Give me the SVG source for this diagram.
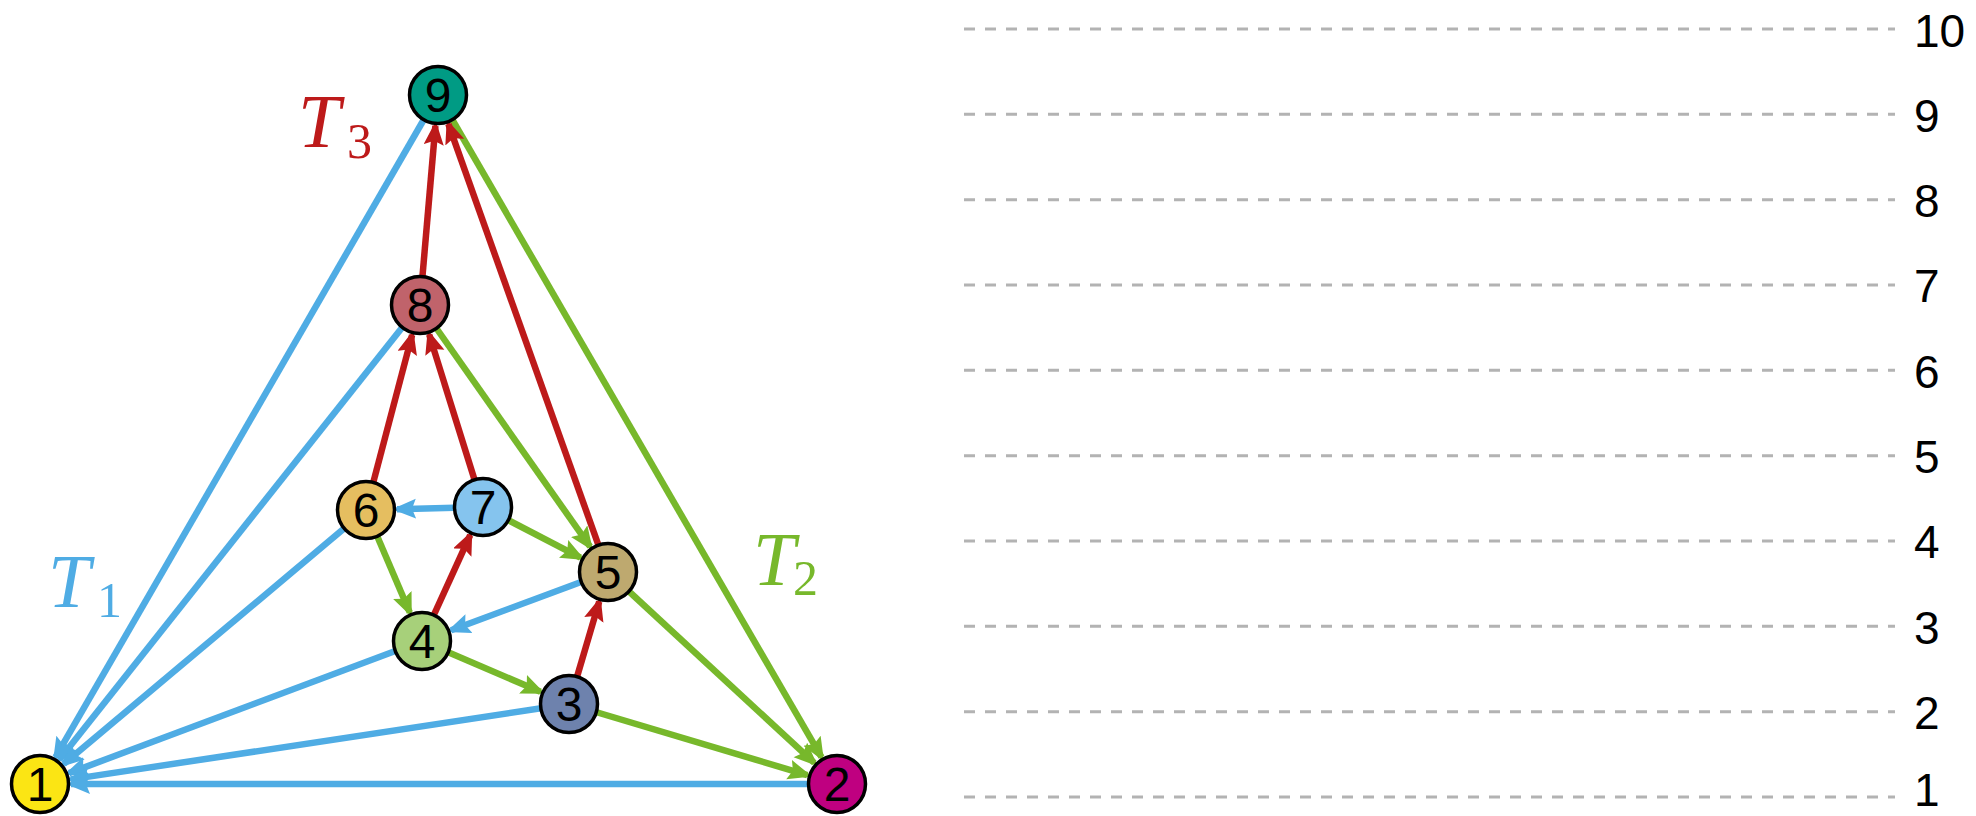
<svg xmlns="http://www.w3.org/2000/svg" width="1976" height="816" viewBox="0 0 1976 816">
<style>
.e{fill:none;stroke-width:6.5}
.b{stroke:#4FACE4}
.g{stroke:#77B82B}
.r{stroke:#BD1A1A}
.n{stroke:#000;stroke-width:3.5}
.nl{font-family:"Liberation Sans",Arial,sans-serif;font-size:48px;text-anchor:middle;fill:#000}
.lv{stroke:#B3B3B3;stroke-width:3;stroke-dasharray:11 10}
.ll{font-family:"Liberation Sans",Arial,sans-serif;font-size:46px;fill:#000}
.tT{font-family:"Liberation Serif","Times New Roman",serif;font-style:italic;font-size:76px}
.ts{font-family:"Liberation Serif","Times New Roman",serif;font-size:50px}
</style>
<defs>
<marker id="ab" markerUnits="userSpaceOnUse" markerWidth="26" markerHeight="22" refX="19" refY="10" orient="auto"><path d="M0,0 L24,10 L0,20 L4,10 z" fill="#4FACE4"/></marker>
<marker id="ag" markerUnits="userSpaceOnUse" markerWidth="26" markerHeight="22" refX="19" refY="10" orient="auto"><path d="M0,0 L24,10 L0,20 L4,10 z" fill="#77B82B"/></marker>
<marker id="ar" markerUnits="userSpaceOnUse" markerWidth="26" markerHeight="22" refX="19" refY="10" orient="auto"><path d="M0,0 L24,10 L0,20 L4,10 z" fill="#BD1A1A"/></marker>
</defs>
<g id="levels">
<line class="lv" x1="964" y1="797" x2="1895" y2="797"/>
<line class="lv" x1="964" y1="711.7" x2="1895" y2="711.7"/>
<line class="lv" x1="964" y1="626.3" x2="1895" y2="626.3"/>
<line class="lv" x1="964" y1="541" x2="1895" y2="541"/>
<line class="lv" x1="964" y1="455.7" x2="1895" y2="455.7"/>
<line class="lv" x1="964" y1="370.3" x2="1895" y2="370.3"/>
<line class="lv" x1="964" y1="285" x2="1895" y2="285"/>
<line class="lv" x1="964" y1="199.7" x2="1895" y2="199.7"/>
<line class="lv" x1="964" y1="114.3" x2="1895" y2="114.3"/>
<line class="lv" x1="964" y1="29" x2="1895" y2="29"/>
<text class="ll" x="1914" y="806">1</text>
<text class="ll" x="1914" y="729">2</text>
<text class="ll" x="1914" y="643.5">3</text>
<text class="ll" x="1914" y="558">4</text>
<text class="ll" x="1914" y="473">5</text>
<text class="ll" x="1914" y="387.5">6</text>
<text class="ll" x="1914" y="302">7</text>
<text class="ll" x="1914" y="217">8</text>
<text class="ll" x="1914" y="131.5">9</text>
<text class="ll" x="1914" y="47">10</text>
</g>
<g id="connectors">
<line class="e b" x1="438" y1="95" x2="55.5" y2="757.2" marker-end="url(#ab)"/>
<line class="e b" x1="420" y1="305" x2="59.3" y2="759.7" marker-end="url(#ab)"/>
<line class="e b" x1="366" y1="510" x2="63.7" y2="764.1" marker-end="url(#ab)"/>
<line class="e b" x1="422" y1="641" x2="69" y2="773.1" marker-end="url(#ab)"/>
<line class="e b" x1="569" y1="704" x2="70.7" y2="779.4" marker-end="url(#ab)"/>
<line class="e b" x1="837" y1="784" x2="71" y2="784" marker-end="url(#ab)"/>
<line class="e b" x1="483" y1="507" x2="397" y2="509.2" marker-end="url(#ab)"/>
<line class="e b" x1="608" y1="572" x2="451.1" y2="630.2" marker-end="url(#ab)"/>
<line class="e g" x1="438" y1="95" x2="821.5" y2="757.2" marker-end="url(#ag)"/>
<line class="e g" x1="608" y1="572" x2="814.3" y2="762.9" marker-end="url(#ag)"/>
<line class="e g" x1="569" y1="704" x2="807.3" y2="775.1" marker-end="url(#ag)"/>
<line class="e g" x1="420" y1="305" x2="590.1" y2="546.7" marker-end="url(#ag)"/>
<line class="e g" x1="483" y1="507" x2="580.5" y2="557.7" marker-end="url(#ag)"/>
<line class="e g" x1="366" y1="510" x2="409.8" y2="612.5" marker-end="url(#ag)"/>
<line class="e g" x1="422" y1="641" x2="540.5" y2="691.8" marker-end="url(#ag)"/>
<line class="e r" x1="420" y1="305" x2="435.4" y2="125.9" marker-end="url(#ar)"/>
<line class="e r" x1="608" y1="572" x2="448.4" y2="124.2" marker-end="url(#ar)"/>
<line class="e r" x1="366" y1="510" x2="412.1" y2="335" marker-end="url(#ar)"/>
<line class="e r" x1="483" y1="507" x2="429.2" y2="334.6" marker-end="url(#ar)"/>
<line class="e r" x1="422" y1="641" x2="470.2" y2="535.2" marker-end="url(#ar)"/>
<line class="e r" x1="569" y1="704" x2="599.2" y2="601.7" marker-end="url(#ar)"/>
</g>
<g id="node1"><circle class="n" cx="40" cy="784" r="28.5" fill="#FBE514"/><text class="nl" x="40" y="801">1</text></g>
<g id="node2"><circle class="n" cx="837" cy="784" r="28.5" fill="#BF0080"/><text class="nl" x="837" y="801">2</text></g>
<g id="node3"><circle class="n" cx="569" cy="704" r="28.5" fill="#6E82AD"/><text class="nl" x="569" y="721">3</text></g>
<g id="node4"><circle class="n" cx="422" cy="641" r="28.5" fill="#A7D07A"/><text class="nl" x="422" y="658">4</text></g>
<g id="node5"><circle class="n" cx="608" cy="572" r="28.5" fill="#BEA96F"/><text class="nl" x="608" y="589">5</text></g>
<g id="node6"><circle class="n" cx="366" cy="510" r="28.5" fill="#E5BE60"/><text class="nl" x="366" y="527">6</text></g>
<g id="node7"><circle class="n" cx="483" cy="507" r="28.5" fill="#85C4EE"/><text class="nl" x="483" y="524">7</text></g>
<g id="node8"><circle class="n" cx="420" cy="305" r="28.5" fill="#C0636B"/><text class="nl" x="420" y="322">8</text></g>
<g id="node9"><circle class="n" cx="438" cy="95" r="28.5" fill="#009B84"/><text class="nl" x="438" y="112">9</text></g>
<g id="labelT1" fill="#4FACE4"><text class="tT" x="48" y="607">T</text><text class="ts" x="97" y="617">1</text></g>
<g id="labelT2" fill="#77B82B"><text class="tT" x="753" y="585">T</text><text class="ts" x="793" y="595">2</text></g>
<g id="labelT3" fill="#BD1A1A"><text class="tT" x="298" y="147">T</text><text class="ts" x="347" y="158">3</text></g>
</svg>
